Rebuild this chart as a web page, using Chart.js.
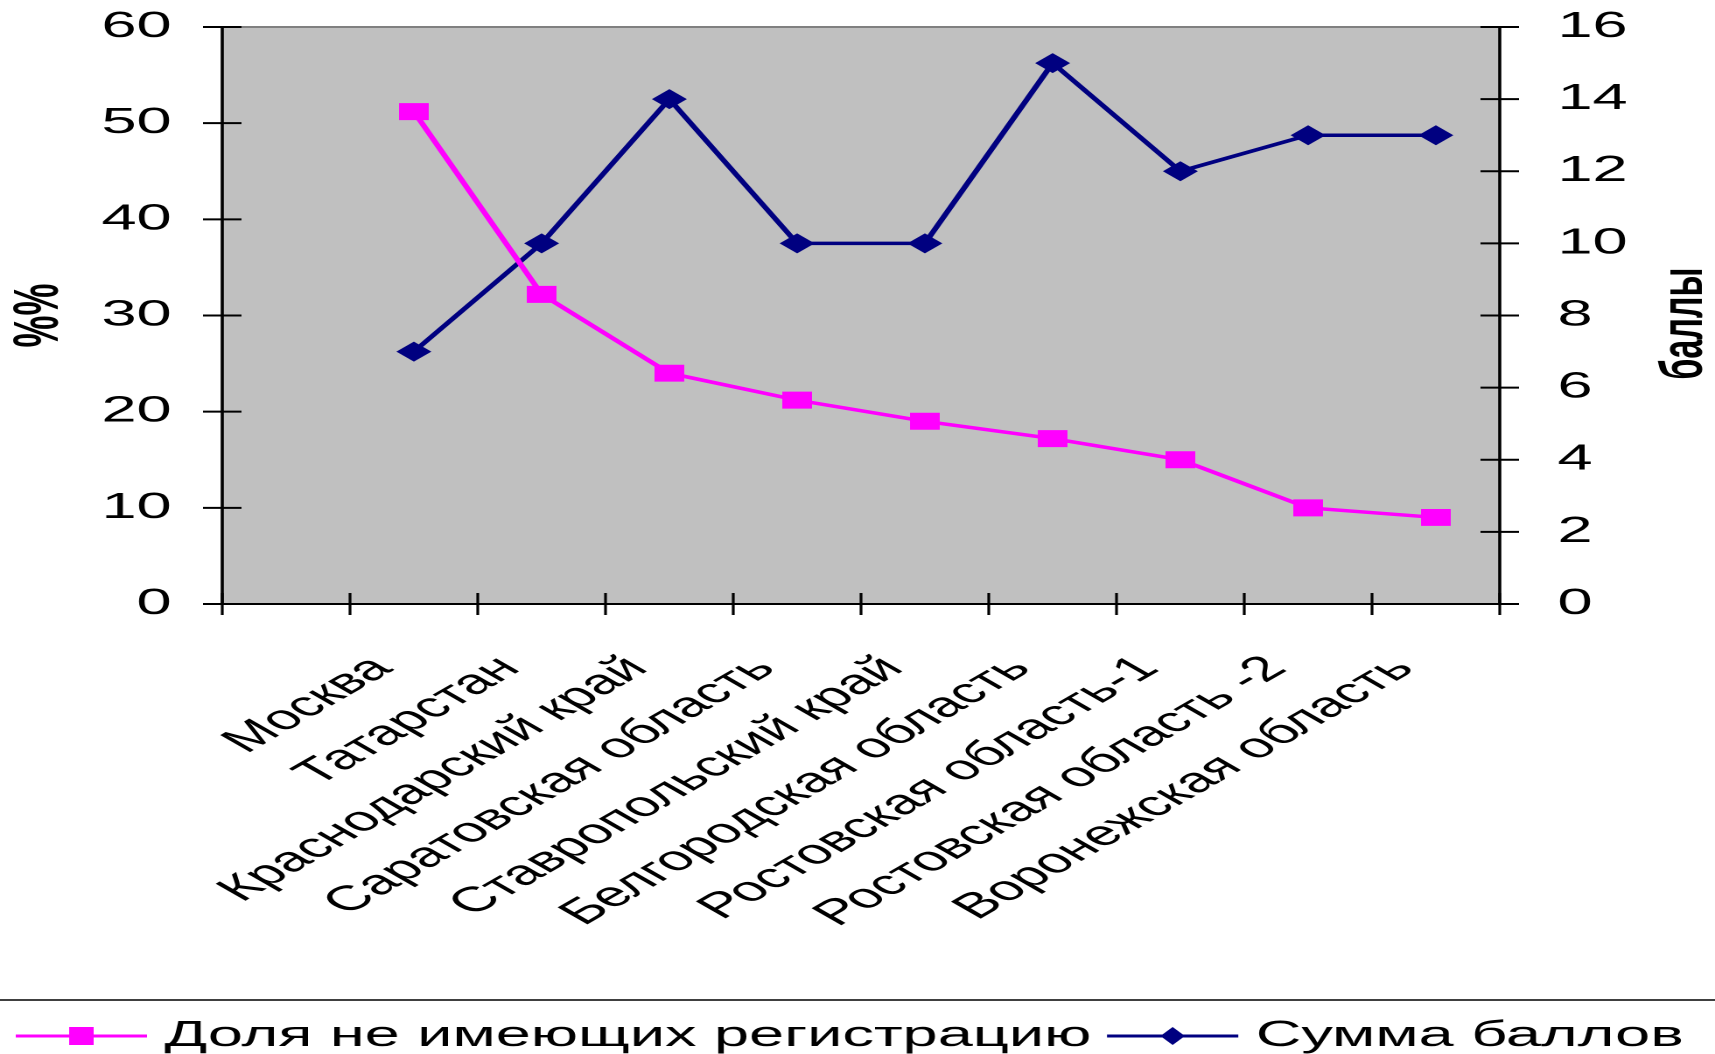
<!DOCTYPE html>
<html><head><meta charset="utf-8">
<script src="https://cdn.jsdelivr.net/npm/chart.js@4"></script>
<style>
html,body{margin:0;padding:0;background:#fff;overflow:hidden;width:1715px;height:1054px;}
#wrap{position:absolute;left:0;top:0;width:980px;height:1054px;transform:scaleX(1.75);transform-origin:0 0;}
canvas{display:block;}
</style></head><body>
<div id="wrap"><canvas id="c" width="980" height="1054" style="width:980px;height:1054px"></canvas></div>
<script>
// ---- data ----
const categories = ["", "Москва", "Татарстан", "Краснодарский край", "Саратовская область", "Ставропольский край", "Белгородская область", "Ростовская область-1", "Ростовская область -2", "Воронежская область"];
const shareNoRegistration = [null, 51.2, 32.2, 24.0, 21.2, 19.0, 17.2, 15.0, 10.0, 9.0];
const sumScores = [null, 7, 10, 14, 10, 10, 15, 12, 13, 13];
const leftTicks = [0, 10, 20, 30, 40, 50, 60];
const rightTicks = [0, 2, 4, 6, 8, 10, 12, 14, 16];
const seriesNames = ["Доля не имеющих регистрацию", "Сумма баллов"];
const axisTitles = ["%%", "баллы"];

// ---- style ----
const PINK = '#FF00FF', NAVY = '#000080';
const FONT = "'Liberation Sans', Arial, sans-serif";
const PLOT_BOTTOM = 604;
const PAD_BOTTOM = -10;
Chart.defaults.font.family = FONT;
Chart.defaults.color = '#000';

function line(ctx, x1, y1, x2, y2) { ctx.beginPath(); ctx.moveTo(x1, y1); ctx.lineTo(x2, y2); ctx.stroke(); }

const frame = {
  id: 'frame',
  beforeDraw(chart) {
    const {ctx, chartArea: a} = chart;
    ctx.save();
    ctx.fillStyle = '#fff'; ctx.fillRect(0, 0, chart.width, chart.height);
    ctx.fillStyle = '#C0C0C0'; ctx.fillRect(a.left, a.top, a.right - a.left, a.bottom - a.top);
    ctx.restore();
  },
  beforeDatasetsDraw(chart) {
    const {ctx, chartArea: a, scales} = chart;
    ctx.save();
    ctx.strokeStyle = '#808080'; ctx.lineWidth = 2;
    line(ctx, a.left, a.top, a.right, a.top);
    ctx.strokeStyle = '#000';
    ctx.lineWidth = 1.8;
    line(ctx, a.left, a.top - 1, a.left, a.bottom);
    line(ctx, a.right, a.top - 1, a.right, a.bottom);
    ctx.lineWidth = 2;
    line(ctx, a.left, a.bottom, a.right, a.bottom);
    const tl = 11;
    scales.y.ticks.forEach((t, i) => { const y = scales.y.getPixelForTick(i); line(ctx, a.left - tl, y, a.left + tl, y); });
    scales.y1.ticks.forEach((t, i) => { const y = scales.y1.getPixelForTick(i); line(ctx, a.right - tl, y, a.right + tl, y); });
    ctx.lineWidth = 1.6;
    for (let i = 0; i <= categories.length; i++) {
      const x = scales.x.getPixelForValue(i - 0.5);
      line(ctx, x, a.bottom - tl, x, a.bottom + tl);
    }
    ctx.restore();
  },
  afterDraw(chart) {
    const {ctx, chartArea: a, scales} = chart;
    const lg = chart.legend;
    ctx.save();
    // right axis title (reads bottom-to-top)
    ctx.font = "bold 34px " + FONT;
    ctx.fillStyle = '#000';
    ctx.textAlign = 'center'; ctx.textBaseline = 'middle';
    ctx.translate(scales.y1.right - 17, (a.top + a.bottom) / 2 + 8);
    ctx.rotate(-Math.PI / 2);
    ctx.fillText(axisTitles[1], 0, 0);
    ctx.restore();
    // legend icons + top border
    ctx.save();
    const lab = lg.options.labels;
    const bw = lab.pointStyleWidth;
    const gap = lab.font.size / 2;
    const boxes = lg.legendHitBoxes;
    boxes.forEach((hb, i) => {
      const cy = hb.top + hb.height / 2;
      const textX = hb.left + bw + gap;
      const x2 = textX - 10, x1 = x2 - 75, cx = (x1 + x2) / 2;
      const col = i === 0 ? PINK : NAVY;
      ctx.strokeStyle = col; ctx.fillStyle = col; ctx.lineWidth = 3;
      line(ctx, x1, cy, x2, cy);
      if (i === 0) {
        ctx.fillRect(cx - 7, cy - 9, 14, 18);
      } else {
        ctx.beginPath(); ctx.moveTo(cx - 7, cy); ctx.lineTo(cx, cy - 9); ctx.lineTo(cx + 7, cy); ctx.lineTo(cx, cy + 9); ctx.closePath(); ctx.fill();
      }
    });
    if (boxes.length) {
      const y = boxes[0].top + boxes[0].height / 2 - 36;
      ctx.strokeStyle = '#404040'; ctx.lineWidth = 2;
      line(ctx, 0, y, chart.width, y);
    }
    ctx.restore();
  }
};

function fixWidth(w) {
  return function (scale) { scale.width = w; scale.paddingTop = 0; scale.paddingBottom = 0; };
}

new Chart(document.getElementById('c'), {
  type: 'line',
  data: {
    labels: categories,
    datasets: [
      { label: seriesNames[0], data: shareNoRegistration, yAxisID: 'y',
        borderColor: PINK, backgroundColor: PINK, borderWidth: 3.5,
        pointStyle: 'rect', pointRadius: 12, pointBorderWidth: 0, pointBackgroundColor: PINK, tension: 0 },
      { label: seriesNames[1], data: sumScores, yAxisID: 'y1',
        borderColor: NAVY, backgroundColor: NAVY, borderWidth: 3.5,
        pointStyle: 'rectRot', pointRadius: 10, pointBorderWidth: 0, pointBackgroundColor: NAVY, tension: 0 }
    ]
  },
  options: {
    responsive: false,
    devicePixelRatio: 2,
    animation: false,
    events: [],
    layout: { autoPadding: false, padding: { top: 27, left: 0, right: 0, bottom: PAD_BOTTOM } },
    plugins: {
      tooltip: { enabled: false },
      legend: {
        position: 'bottom', align: 'start',
        labels: {
          usePointStyle: true, pointStyleWidth: 64, boxHeight: 20, padding: 12,
          font: { size: 36 }, color: '#000',
          generateLabels(chart) {
            return chart.data.datasets.map((ds, i) => ({
              text: ds.label, datasetIndex: i, hidden: false,
              pointStyle: 'circle', fillStyle: 'rgba(0,0,0,0)', strokeStyle: 'rgba(0,0,0,0)', lineWidth: 0
            }));
          }
        }
      }
    },
    scales: {
      x: {
        type: 'category', offset: true,
        grid: { display: false, drawTicks: false, offset: true }, border: { display: false },
        ticks: { autoSkip: false, maxRotation: 45, minRotation: 45, padding: 44, labelOffset: -18,
                 font: { size: 35 }, color: '#000' },
        afterFit(scale) { scale.height = scale.chart.height - PAD_BOTTOM - PLOT_BOTTOM - scale.chart.legend.height; }
      },
      y: {
        position: 'left', min: leftTicks[0], max: leftTicks[leftTicks.length - 1],
        afterBuildTicks(scale) { scale.ticks = leftTicks.map(v => ({ value: v })); },
        grid: { display: false, drawTicks: false }, border: { display: false },
        ticks: { padding: 29, font: { size: 36 }, color: '#000' },
        title: { display: true, text: axisTitles[0], font: { size: 36, weight: 'bold', lineHeight: 1 }, padding: { top: 5, bottom: 0 }, color: '#000' },
        afterFit: fixWidth(127)
      },
      y1: {
        position: 'right', min: rightTicks[0], max: rightTicks[rightTicks.length - 1],
        afterBuildTicks(scale) { scale.ticks = rightTicks.map(v => ({ value: v })); },
        grid: { display: false, drawTicks: false }, border: { display: false },
        ticks: { padding: 33, font: { size: 36 }, color: '#000' },
        afterFit: fixWidth(123)
      }
    }
  },
  plugins: [frame]
});
</script>
</body></html>
